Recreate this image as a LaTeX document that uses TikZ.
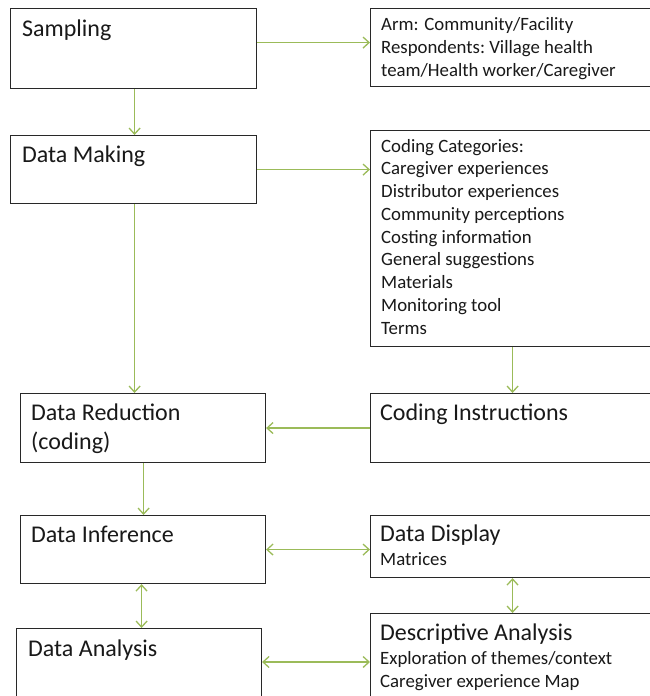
\documentclass[tikz,border=0pt]{standalone}
\usepackage{fontspec}
\setmainfont{Carlito}
\usetikzlibrary{arrows.meta}
\definecolor{arrowgreen}{RGB}{155,187,89}
\definecolor{boxline}{RGB}{40,40,40}
\tikzset{
  box/.style={draw=boxline, line width=1.1pt, fill=white, inner sep=0pt, anchor=north west},
  conn/.style={draw=arrowgreen, line width=1.3pt, -{Straight Barb[length=6pt,width=11pt]}},
  dconn/.style={draw=arrowgreen, line width=1.3pt, {Straight Barb[length=6pt,width=11pt]}-{Straight Barb[length=6pt,width=11pt]}},
  ttl/.style={font=\fontsize{24}{28}\selectfont, anchor=base west, inner sep=0pt, text=black!90},
  sm/.style={font=\fontsize{18.8}{22}\selectfont, anchor=base west, inner sep=0pt, text=black!90},
}
\begin{document}
\begin{tikzpicture}[x=1pt,y=-1pt]
\useasboundingbox (0,0) rectangle (650,696);
\clip (0,0) rectangle (650,696);
% boxes
\node[box, minimum width=246pt, minimum height=80pt] (samp) at (10,8) {};
\node[box, minimum width=285pt, minimum height=78pt] (arm) at (370,8) {};
\node[box, minimum width=246pt, minimum height=68pt] (make) at (10,135) {};
\node[box, minimum width=285pt, minimum height=216pt] (cat) at (370,130) {};
\node[box, minimum width=245pt, minimum height=69pt] (red) at (20,393) {};
\node[box, minimum width=285pt, minimum height=69pt] (ins) at (370,393) {};
\node[box, minimum width=245pt, minimum height=68pt] (inf) at (20,515) {};
\node[box, minimum width=285pt, minimum height=62pt] (disp) at (370,515) {};
\node[box, minimum width=245pt, minimum height=80pt] (ana) at (16,628) {};
\node[box, minimum width=285pt, minimum height=90pt] (desc) at (370,613) {};
% texts
\node[ttl] (tsamp) at (22,36) {Sampling};
\node[sm] (tarm1) at (381,30) {Arm: Community/Facility};
\node[sm] (tarm2) at (381,53) {Respondents:\ Village health};
\node[sm] (tarm3) at (381,76) {team/Health worker/Caregiver};
\node[ttl] (tmake) at (22,162) {Data Making};
\foreach \t [count=\i] in {Coding Categories:,Caregiver experiences,Distributor experiences,Community perceptions,Costing information,General suggestions,Materials,Monitoring tool,Terms}
  \node[sm] (tcat\i) at (381,{152+(\i-1)*22.75}) {\t};
\node[ttl] (tred1) at (31,420) {Data Reduction};
\node[ttl] (tred2) at (31,449) {(coding)};
\node[ttl] (tins) at (380,420) {Coding Instructions};
\node[ttl] (tinf) at (31,542) {Data Inference};
\node[ttl] (tdisp) at (380,541) {Data Display};
\node[sm] (tdisp2) at (380,565) {Matrices};
\node[ttl] (tana) at (28,656) {Data Analysis};
\node[ttl] (tdesc) at (380,640) {Descriptive Analysis};
\node[sm] (tdesc2) at (380,664) {Exploration of themes/context};
\node[sm] (tdesc3) at (380,687) {Caregiver experience Map};
% connectors
\draw[conn] ([yshift=6pt]samp.east) -- ([yshift=6pt]samp.east -| arm.west);
\draw[conn] ([xshift=1pt]samp.south) -- ([xshift=1pt]samp.south |- make.north);
\draw[conn] (make.east) -- (make.east -| cat.west);
\draw[conn] ([xshift=1pt]make.south) -- ([xshift=1pt]make.south |- red.north);
\draw[conn] ([xshift=-0.5pt]cat.south) -- ([xshift=-0.5pt]cat.south |- ins.north);
\draw[conn] (ins.west) -- (ins.west -| red.east);
\draw[conn] ([xshift=0.5pt]red.south) -- ([xshift=0.5pt]red.south |- inf.north);
\draw[dconn] (inf.east) -- (inf.east -| disp.west);
\draw[dconn] ([xshift=-1.5pt]inf.south) -- ([xshift=-1.5pt]inf.south |- ana.north);
\draw[dconn] ([xshift=-0.5pt]disp.south) -- ([xshift=-0.5pt]disp.south |- desc.north);
\draw[dconn] (ana.east |- 0,662) coordinate (a1) -- (a1 -| desc.west);
\end{tikzpicture}
\end{document}
